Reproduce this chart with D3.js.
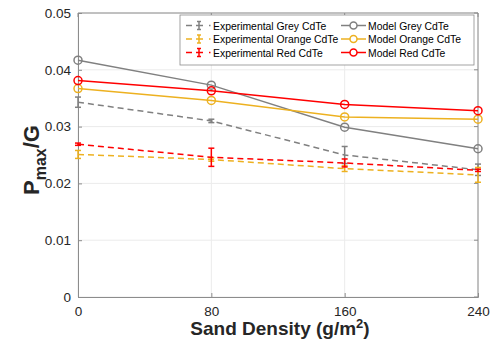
<!DOCTYPE html>
<html><head><meta charset="utf-8">
<script src="https://cdn.jsdelivr.net/npm/d3@7"></script>
<style>body{margin:0;background:#fff}svg{display:block}text{font-family:"Liberation Sans",Arial,sans-serif}</style>
</head><body><svg id="c" width="493" height="342"></svg>
<script>
const sandDensity = [0, 80, 160, 240];
const xTicks = [0, 80, 160, 240];
const yTicks = [0, 0.01, 0.02, 0.03, 0.04, 0.05];
const expGrey = [0.0343, 0.0310, 0.0250, 0.0224];
const expGreyErr = [0.0009, 0.0003, 0.0015, 0.0010];
const expOrange = [0.0251, 0.0242, 0.0226, 0.0215];
const expOrangeErr = [0.0007, 0.0003, 0.0005, 0.0013];
const expRed = [0.0269, 0.0246, 0.0236, 0.0223];
const expRedErr = [0.0002, 0.0016, 0.0007, 0.0002];
const modelGrey = [0.0417, 0.0373, 0.0299, 0.0261];
const modelOrange = [0.0367, 0.0346, 0.0317, 0.0313];
const modelRed = [0.0381, 0.0363, 0.0339, 0.0328];
const seriesNames = ["Experimental Grey CdTe","Experimental Orange CdTe","Experimental Red CdTe","Model Grey CdTe","Model Orange CdTe","Model Red CdTe"];
const colors = {grey:"#808080", orange:"#EDB120", red:"#FF0000"};

const svg = d3.select("#c");
const L=78, R=478, T=13, B=297;
const x = d3.scaleLinear().domain([0,240]).range([L,R]);
const y = d3.scaleLinear().domain([0,0.05]).range([B,T]);

// grid
svg.append("g").selectAll("line.gx").data(xTicks).join("line")
  .attr("x1",d=>x(d)).attr("x2",d=>x(d)).attr("y1",T).attr("y2",B)
  .attr("stroke","#ebebeb").attr("stroke-width",1);
svg.append("g").selectAll("line.gy").data(yTicks).join("line")
  .attr("x1",L).attr("x2",R).attr("y1",d=>y(d)).attr("y2",d=>y(d))
  .attr("stroke","#ebebeb").attr("stroke-width",1);

// axes
const axCol="#262626";
const gx = svg.append("g").attr("transform",`translate(0,${B})`)
  .call(d3.axisBottom(x).tickValues(xTicks).tickSize(-4).tickPadding(9).tickFormat(d3.format("d")));
const gy = svg.append("g").attr("transform",`translate(${L},0)`)
  .call(d3.axisLeft(y).tickValues(yTicks).tickSize(-4).tickPadding(7).tickFormat(d=>d===0?"0":d3.format(".2f")(d)));
[gx,gy].forEach(g=>{
  g.select(".domain").attr("stroke","#8c8c8c");
  g.selectAll(".tick line").attr("stroke","#8c8c8c");
  g.selectAll(".tick text").attr("fill",axCol).attr("font-size",13.5);
});
// top/right box lines
svg.append("line").attr("x1",L).attr("x2",R).attr("y1",T).attr("y2",T).attr("stroke","#8c8c8c");
svg.append("line").attr("x1",R).attr("x2",R).attr("y1",T).attr("y2",B).attr("stroke","#8c8c8c");
svg.append("g").selectAll("line").data(xTicks).join("line")
  .attr("x1",d=>x(d)).attr("x2",d=>x(d)).attr("y1",T).attr("y2",T+4).attr("stroke","#8c8c8c");
svg.append("g").selectAll("line").data(yTicks).join("line")
  .attr("x1",R).attr("x2",R-4).attr("y1",d=>y(d)).attr("y2",d=>y(d)).attr("stroke","#8c8c8c");

const line = d3.line().x((d,i)=>x(sandDensity[i])).y(d=>y(d));

function expSeries(vals, errs, col){
  svg.append("path").attr("d",line(vals)).attr("fill","none").attr("stroke",col)
    .attr("stroke-width",1.5).attr("stroke-dasharray","6,4");
  const g = svg.append("g");
  vals.forEach((v,i)=>{
    const cx=x(sandDensity[i]);
    g.append("line").attr("x1",cx).attr("x2",cx).attr("y1",y(v-errs[i])).attr("y2",y(v+errs[i])).attr("stroke",col).attr("stroke-width",1.5);
    [v-errs[i], v+errs[i]].forEach(e=>g.append("line").attr("x1",cx-3).attr("x2",cx+3).attr("y1",y(e)).attr("y2",y(e)).attr("stroke",col).attr("stroke-width",1.5));
  });
}
function modelSeries(vals, col){
  svg.append("path").attr("d",line(vals)).attr("fill","none").attr("stroke",col).attr("stroke-width",1.5);
  svg.append("g").selectAll("circle").data(vals).join("circle")
    .attr("cx",(d,i)=>x(sandDensity[i])).attr("cy",d=>y(d)).attr("r",4)
    .attr("fill","none").attr("stroke",col).attr("stroke-width",1.5);
}
expSeries(expGrey, expGreyErr, colors.grey);
expSeries(expOrange, expOrangeErr, colors.orange);
expSeries(expRed, expRedErr, colors.red);
modelSeries(modelGrey, colors.grey);
modelSeries(modelOrange, colors.orange);
modelSeries(modelRed, colors.red);

// legend
const lg = svg.append("g");
lg.append("rect").attr("x",180).attr("y",15).attr("width",294).attr("height",50)
  .attr("fill","#fff").attr("stroke","#8c8c8c").attr("stroke-width",0.8);
const legCols=[colors.grey,colors.orange,colors.red];
const rows=[25.5,39,52.5];
rows.forEach((ry,i)=>{
  const c=legCols[i];
  lg.append("line").attr("x1",186).attr("x2",192).attr("y1",ry).attr("y2",ry).attr("stroke",c).attr("stroke-width",1.5);
  lg.append("line").attr("x1",196).attr("x2",203).attr("y1",ry).attr("y2",ry).attr("stroke",c).attr("stroke-width",1.5);
  lg.append("line").attr("x1",199).attr("x2",199).attr("y1",ry-4).attr("y2",ry+4).attr("stroke",c).attr("stroke-width",1.5);
  lg.append("line").attr("x1",197).attr("x2",201).attr("y1",ry-4).attr("y2",ry-4).attr("stroke",c).attr("stroke-width",1.5);
  lg.append("line").attr("x1",197).attr("x2",201).attr("y1",ry+4).attr("y2",ry+4).attr("stroke",c).attr("stroke-width",1.5);
  lg.append("line").attr("x1",209).attr("x2",210.5).attr("y1",ry).attr("y2",ry).attr("stroke",c).attr("stroke-width",1.5);
  lg.append("text").attr("x",213).attr("y",ry+4).attr("font-size",10.4).attr("fill","#000").text(seriesNames[i]);
  lg.append("line").attr("x1",341).attr("x2",366).attr("y1",ry).attr("y2",ry).attr("stroke",c).attr("stroke-width",1.5);
  lg.append("circle").attr("cx",353.5).attr("cy",ry).attr("r",3.5).attr("fill","#fff").attr("stroke",c).attr("stroke-width",1.5);
  lg.append("text").attr("x",368).attr("y",ry+4).attr("font-size",10.4).attr("fill","#000").text(seriesNames[i+3]);
});

// axis labels
svg.append("text").attr("x",280).attr("y",335).attr("text-anchor","middle")
  .attr("font-size",19).attr("font-weight","bold").attr("fill",axCol)
  .html('Sand Density (g/m<tspan dy="-7" font-size="13">2</tspan><tspan dy="7">)</tspan>');
svg.append("text").attr("transform","translate(39,160) rotate(-90)").attr("text-anchor","middle")
  .attr("font-size",22).attr("font-weight","bold").attr("fill",axCol)
  .html('P<tspan dy="7" font-size="16">max</tspan><tspan dy="-7">/G</tspan>');
</script></body></html>
